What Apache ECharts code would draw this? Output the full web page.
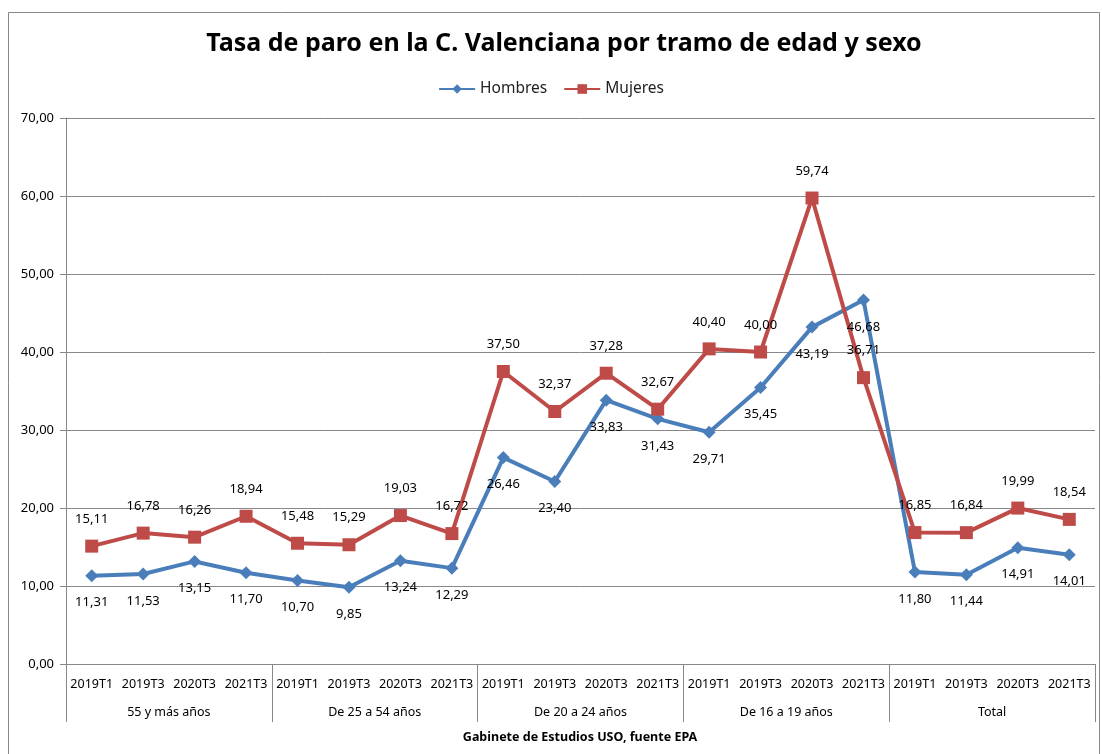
<!DOCTYPE html>
<html>
<head>
<meta charset="utf-8">
<script src="https://cdn.jsdelivr.net/npm/echarts@6/dist/echarts.min.js"></script>
<style>html,body{margin:0;padding:0;background:#fff}#c{width:1102px;height:754px}</style>
</head>
<body>
<div id="c"></div>
<script>
const periods = ['2019T1','2019T3','2020T3','2021T3','2019T1','2019T3','2020T3','2021T3','2019T1','2019T3','2020T3','2021T3','2019T1','2019T3','2020T3','2021T3','2019T1','2019T3','2020T3','2021T3'];
const groups = ['55 y más años','De 25 a 54 años','De 20 a 24 años','De 16 a 19 años','Total'];
const hombres = [11.31,11.53,13.15,11.70,10.70,9.85,13.24,12.29,26.46,23.40,33.83,31.43,29.71,35.45,43.19,46.68,11.80,11.44,14.91,14.01];
const mujeres = [15.11,16.78,16.26,18.94,15.48,15.29,19.03,16.72,37.50,32.37,37.28,32.67,40.40,40.00,59.74,36.71,16.85,16.84,19.99,18.54];
const fmt = v => Number(v).toFixed(2).replace('.', ',');
const chart = echarts.init(document.getElementById('c'));
chart.setOption({
  animation: false,
  backgroundColor: '#fff',
  title: {
    text: 'Tasa de paro en la C. Valenciana por tramo de edad y sexo',
    left: 559, top: 26, textAlign: 'center',
    textStyle: {fontFamily: 'Noto Sans', fontWeight: 'bold', fontSize: 25, color: '#000'}
  },
  legend: {
    top: 76, left: 'center',
    itemWidth: 36, itemHeight: 12, itemGap: 16,
    textStyle: {fontFamily: 'Noto Sans', fontSize: 15.5, color: '#222'},
    data: ['Hombres','Mujeres']
  },
  graphic: [
    {type: 'rect', shape: {x: 8.5, y: 12.5, width: 1091, height: 760}, style: {fill: 'none', stroke: '#888', lineWidth: 1}, silent: true},
    {type: 'text', x: 580, y: 737, style: {text: 'Gabinete de Estudios USO, fuente EPA', fill: '#000', font: 'bold 12.5px "Noto Sans"', align: 'center', verticalAlign: 'middle'}}
  ],
  grid: {left: 66, right: 7, top: 118, bottom: 90, containLabel: false},
  xAxis: [
    {
      type: 'category', data: periods, position: 'bottom',
      axisLine: {lineStyle: {color: '#888', width: 1}},
      axisTick: {show: false},
      axisLabel: {interval: 0, margin: 14, fontFamily: 'Noto Sans', fontSize: 12.5, color: '#000'}
    },
    {
      type: 'category', data: groups, position: 'bottom', gridIndex: 0,
      axisLine: {show: false},
      axisTick: {show: true, length: 58, inside: false, interval: 0, lineStyle: {color: '#888'}},
      axisLabel: {interval: 0, margin: 42, fontFamily: 'Noto Sans', fontSize: 12.5, color: '#000'}
    }
  ],
  yAxis: {
    type: 'value', min: 0, max: 70, interval: 10,
    axisLine: {show: true, lineStyle: {color: '#888'}},
    axisTick: {show: true, length: 6, lineStyle: {color: '#888'}},
    splitLine: {lineStyle: {color: '#888', width: 1}},
    axisLabel: {formatter: fmt, margin: 12, fontFamily: 'Noto Sans', fontSize: 13, color: '#000'}
  },
  series: [
    {
      name: 'Hombres', type: 'line', data: hombres, xAxisIndex: 0,
      symbol: 'diamond', symbolSize: 13,
      lineStyle: {color: '#4A7EBB', width: 4},
      itemStyle: {color: '#4A7EBB'},
      label: {show: true, position: 'bottom', distance: 14, formatter: p => fmt(p.value), fontFamily: 'Noto Sans', fontSize: 13, color: '#000'}
    },
    {
      name: 'Mujeres', type: 'line', data: mujeres, xAxisIndex: 0,
      symbol: 'rect', symbolSize: 13,
      lineStyle: {color: '#BE4B48', width: 4},
      itemStyle: {color: '#BE4B48'},
      label: {show: true, position: 'top', distance: 14, formatter: p => fmt(p.value), fontFamily: 'Noto Sans', fontSize: 13, color: '#000'}
    }
  ]
});
</script>
</body>
</html>
